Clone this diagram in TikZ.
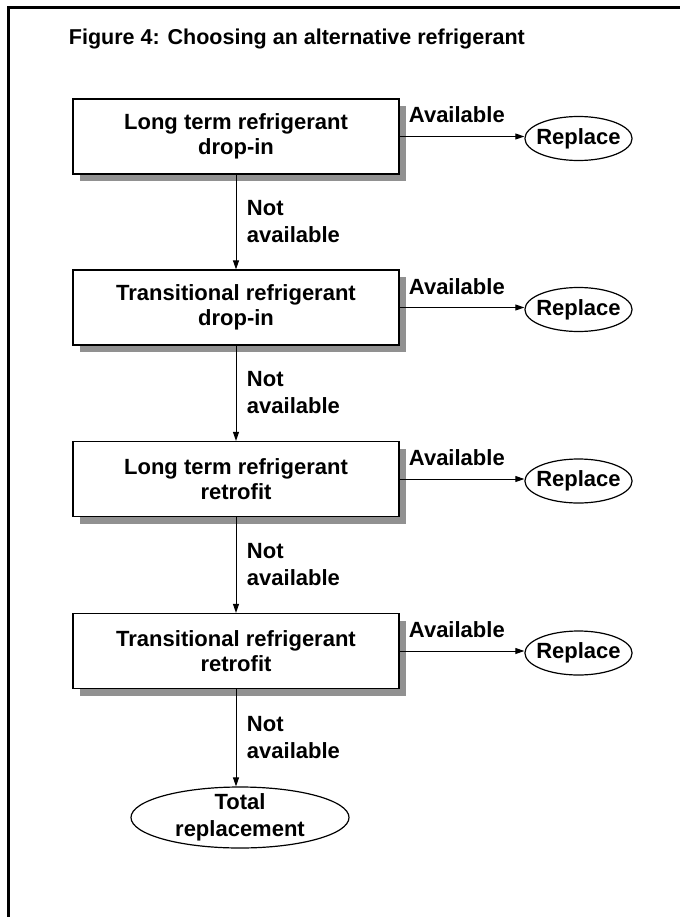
\documentclass[tikz,border=0pt]{standalone}
\usepackage{fontspec}
\setmainfont{Liberation Sans}
\usetikzlibrary{shapes.geometric,arrows.meta,shadows}
\definecolor{shadowgrey}{RGB}{145,145,145}
\begin{document}
\begin{tikzpicture}[x=1pt,y=1pt,yscale=-1,xscale=1,
  every node/.style={font=\bfseries\fontsize{22}{25}\selectfont,inner sep=0.75pt},
  stepbox/.style={draw,line width=1.2pt,fill=white,minimum width=326pt,minimum height=75pt,align=center,
    drop shadow={shadow xshift=7pt,shadow yshift=-7pt,fill=shadowgrey,opacity=1}},
  endoval/.style={ellipse,draw,line width=1.2pt,fill=white,align=center},
  replace/.style={endoval,minimum width=107pt,minimum height=44pt,inner xsep=-4.3pt,inner ysep=0pt},
  nalabel/.style={anchor=west,align=left,font=\bfseries\fontsize{22}{27}\selectfont},
  flow/.style={line width=1pt,-{Triangle[length=9pt,width=6pt]}}]
\useasboundingbox (0,0) rectangle (680,917);

%Shape: Frame
\draw [line width=3pt] (8.5,917) -- (8.5,8) -- (680,8) ;

% Title
\node [anchor=base west,font=\bfseries\fontsize{21.5}{24}\selectfont] (title) at (68,45) {Figure 4: Choosing an alternative refrigerant};

%Shape: Boxes
\node [stepbox] (ltdrop) at (236,136.5) {Long term refrigerant\\drop-in};
\node [stepbox] (trdrop) at (236,307.5) {Transitional refrigerant\\drop-in};
\node [stepbox] (ltretro) at (236,479) {Long term refrigerant\\retrofit};
\node [stepbox] (trretro) at (236,651) {Transitional refrigerant\\retrofit};

%Shape: Ellipses
\node [replace] (rep1) at (578.5,138.5) {Replace};
\node [replace] (rep2) at (578.5,309.5) {Replace};
\node [replace] (rep3) at (578.5,481) {Replace};
\node [replace] (rep4) at (578.5,653) {Replace};
\node [endoval,minimum width=218pt,minimum height=61pt,inner ysep=-3pt,font=\bfseries\fontsize{22}{26.5}\selectfont] (total) at (240,817.5) {Total\\replacement};

%Straight Lines
\draw [flow] (ltdrop.east) -- (ltdrop.east -| rep1.west) ;
\draw [flow] (trdrop.east) -- (trdrop.east -| rep2.west) ;
\draw [flow] (ltretro.east) -- (ltretro.east -| rep3.west) ;
\draw [flow] (trretro.east) -- (trretro.east -| rep4.west) ;
\draw [flow] (ltdrop) -- (trdrop) ;
\draw [flow] (trdrop) -- (ltretro) ;
\draw [flow] (ltretro) -- (trretro) ;
\draw [flow] (trretro.south) -- (trretro.south |- total.north) ;

% Text Node
\node [anchor=base west] (av1) at (408,123) {Available};
\node [anchor=base west] (av2) at (408,294) {Available};
\node [anchor=base west] (av3) at (408,465.5) {Available};
\node [anchor=base west] (av4) at (408,637.5) {Available};
% Text Node
\node [nalabel] (na1) at (246,222) {Not\\available};
\node [nalabel] (na2) at (246,393) {Not\\available};
\node [nalabel] (na3) at (246,565) {Not\\available};
\node [nalabel] (na4) at (246,738) {Not\\available};

\end{tikzpicture}
\end{document}
